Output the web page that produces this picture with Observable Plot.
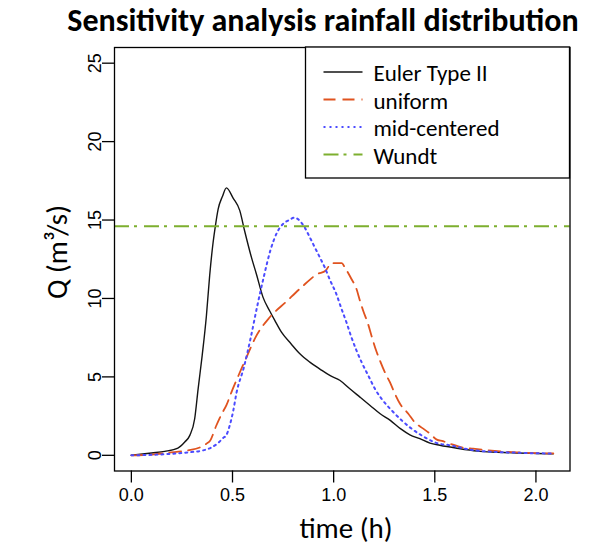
<!DOCTYPE html>
<html>
<head>
<meta charset="utf-8">
<script src="https://cdn.jsdelivr.net/npm/d3@7"></script>
<script src="https://cdn.jsdelivr.net/npm/@observablehq/plot@0.6"></script>
<style>
  html, body { margin: 0; padding: 0; background: white; }
</style>
</head>
<body>
<div id="chart"></div>
<script>
// ---- data ----
const chartTitle = "Sensitivity analysis rainfall distribution";
const xLabel = "time (h)";
const yLabel = "Q (m³/s)";
const xTicks = [0, 0.5, 1.0, 1.5, 2.0];
const yTicks = [0, 5, 10, 15, 20, 25];
const seriesNames = ["Euler Type II", "uniform", "mid-centered", "Wundt"];

const eulerT = [0, 0.1, 0.165, 0.23, 0.264, 0.289, 0.313, 0.33, 0.35, 0.371, 0.387, 0.404, 0.415, 0.429, 0.45, 0.47, 0.503, 0.536, 0.56, 0.594, 0.618, 0.651, 0.684, 0.709, 0.742, 0.79, 0.833, 0.882, 0.932, 0.981, 1.032, 1.08, 1.13, 1.18, 1.23, 1.28, 1.33, 1.377, 1.426, 1.476, 1.525, 1.61, 1.71, 1.81, 1.905, 2.0, 2.086];
const eulerQ = [0, 0.15, 0.25, 0.46, 0.85, 1.27, 2.33, 4.24, 6.36, 8.9, 11.45, 13.57, 14.6, 15.7, 16.5, 17.05, 16.4, 15.6, 14.3, 12.6, 11.56, 10.07, 9.2, 8.6, 7.85, 7.1, 6.47, 5.94, 5.5, 5.09, 4.77, 4.24, 3.71, 3.18, 2.65, 2.23, 1.7, 1.31, 1.06, 0.78, 0.64, 0.45, 0.27, 0.2, 0.15, 0.12, 0.1];

const uniformT = [0, 0.1, 0.214, 0.28, 0.338, 0.371, 0.39, 0.42, 0.445, 0.47, 0.494, 0.52, 0.569, 0.617, 0.684, 0.766, 0.84, 0.92, 0.96, 0.99, 1.04, 1.055, 1.088, 1.113, 1.13, 1.146, 1.17, 1.187, 1.21, 1.229, 1.253, 1.278, 1.303, 1.328, 1.369, 1.40, 1.443, 1.476, 1.51, 1.54, 1.575, 1.64, 1.69, 1.81, 1.905, 2.0, 2.086];
const uniformQ = [0, 0.05, 0.21, 0.32, 0.5, 0.74, 0.95, 1.9, 2.6, 3.2, 4.0, 4.8, 6.25, 7.6, 8.8, 9.8, 10.7, 11.56, 11.77, 12.25, 12.25, 11.98, 11.24, 10.6, 9.86, 9.22, 8.38, 7.63, 6.68, 6.04, 5.3, 4.66, 3.92, 3.29, 2.65, 2.12, 1.7, 1.38, 1.0, 0.9, 0.74, 0.49, 0.42, 0.27, 0.19, 0.14, 0.12];

const midT = [0, 0.1, 0.2, 0.297, 0.35, 0.396, 0.43, 0.453, 0.47, 0.486, 0.503, 0.52, 0.556, 0.59, 0.622, 0.655, 0.688, 0.72, 0.758, 0.78, 0.805, 0.84, 0.858, 0.882, 0.907, 0.932, 0.956, 0.981, 1.013, 1.039, 1.064, 1.088, 1.113, 1.138, 1.171, 1.204, 1.237, 1.287, 1.336, 1.385, 1.435, 1.51, 1.575, 1.674, 1.81, 1.905, 2.0, 2.086];
const midQ = [0, 0.03, 0.1, 0.21, 0.3, 0.5, 0.8, 1.1, 1.3, 1.9, 2.8, 4.0, 5.6, 7.5, 9.5, 11.4, 13.1, 14.2, 14.84, 15.0, 15.15, 14.84, 14.5, 13.9, 13.25, 12.61, 11.98, 11.2, 10.29, 9.33, 8.45, 7.52, 6.68, 5.94, 5.09, 4.24, 3.6, 2.86, 2.23, 1.7, 1.27, 0.78, 0.64, 0.36, 0.21, 0.17, 0.13, 0.12];

const wundtQ = 14.6;

// ---- styles ----
const colBlack = "#141414";
const colRed = "#E0531F";
const colBlue = "#4B4BFF";
const colGreen = "#7DAF2F";
const dashRed = "12 7";
const dashBlue = "2 4";
const dashGreen = "15 5 3 7";

const toRows = (ts, qs) => ts.map((t, i) => ({t, Q: qs[i]}));
const eulerRows = toRows(eulerT, eulerQ);
const uniformRows = toRows(uniformT, uniformQ);
const midRows = toRows(midT, midQ);

const W = 590, H = 547;
const plot = Plot.plot({
  width: W,
  height: H,
  marginTop: 47,
  marginBottom: 76.5,
  marginLeft: 114,
  marginRight: 20.5,
  x: {domain: [-0.0834, 2.1684]},
  y: {domain: [-1, 26]},
  style: {fontFamily: "'Liberation Sans', Arial, sans-serif", fontSize: "18px", background: "white", color: "black", overflow: "visible"},
  marks: [
    Plot.line(eulerRows, {x: "t", y: "Q", stroke: colBlack, strokeWidth: 1.4, curve: "monotone-x"}),
    Plot.line(uniformRows, {x: "t", y: "Q", stroke: colRed, strokeWidth: 1.8, strokeDasharray: dashRed, curve: "monotone-x"}),
    Plot.line(midRows, {x: "t", y: "Q", stroke: colBlue, strokeWidth: 2, strokeDasharray: dashBlue, curve: "monotone-x"}),
    Plot.ruleY([wundtQ], {stroke: colGreen, strokeWidth: 2, strokeDasharray: dashGreen}),
    Plot.frame({stroke: "black", strokeWidth: 1.3}),
    Plot.axisX({ticks: xTicks, tickSize: 12, tickPadding: 5, tickFormat: d3.format(".1f"), label: null, strokeWidth: 1.3}),
    Plot.axisY({ticks: yTicks, tickSize: 12, tickPadding: 2, tickRotate: -90, label: null, strokeWidth: 1.3})
  ]
});

document.getElementById("chart").appendChild(plot);

// ---- title, axis titles, legend ----
const svg = d3.select(plot);
const xr = plot.scale("x").range;
const yr = plot.scale("y").range;
const fLeft = Math.min(...xr), fRight = Math.max(...xr);
const fTop = Math.min(...yr), fBottom = Math.max(...yr);
const labelFont = "Carlito, Calibri, Lato, 'Open Sans', sans-serif";

svg.append("text")
  .attr("x", 323).attr("y", 31)
  .attr("text-anchor", "middle")
  .style("font-family", labelFont).style("font-weight", "bold").style("font-size", "32px")
  .attr("fill", "black")
  .text(chartTitle);

svg.append("text")
  .attr("x", 346).attr("y", 538)
  .attr("text-anchor", "middle")
  .style("font-family", labelFont).style("font-size", "29px")
  .attr("fill", "black")
  .text(xLabel);

svg.append("text")
  .attr("transform", `translate(67, 252) rotate(-90)`)
  .attr("text-anchor", "middle")
  .style("font-family", labelFont).style("font-size", "29px")
  .attr("fill", "black")
  .text(yLabel);

const legW = 264, legH = 131;
const lg = svg.append("g").attr("transform", `translate(${fRight - legW}, ${fTop})`);
lg.append("rect").attr("x", 0).attr("y", 0).attr("width", legW).attr("height", legH)
  .attr("fill", "white").attr("stroke", "black").attr("stroke-width", 1.3);
const legColors = [colBlack, colRed, colBlue, colGreen];
const legDash = [null, dashRed, dashBlue, dashGreen];
const legWidth = [1.4, 1.8, 2, 2];
seriesNames.forEach((name, i) => {
  const yl = 25 + i * 27.5;
  lg.append("line").attr("x1", 18).attr("x2", 57).attr("y1", yl).attr("y2", yl)
    .attr("stroke", legColors[i]).attr("stroke-width", legWidth[i])
    .attr("stroke-dasharray", legDash[i]);
  lg.append("text").attr("x", 68).attr("y", yl + 9)
    .attr("text-anchor", "start")
    .style("font-family", labelFont).style("font-size", "23px")
    .attr("fill", "black")
    .text(name);
});
</script>
</body>
</html>
